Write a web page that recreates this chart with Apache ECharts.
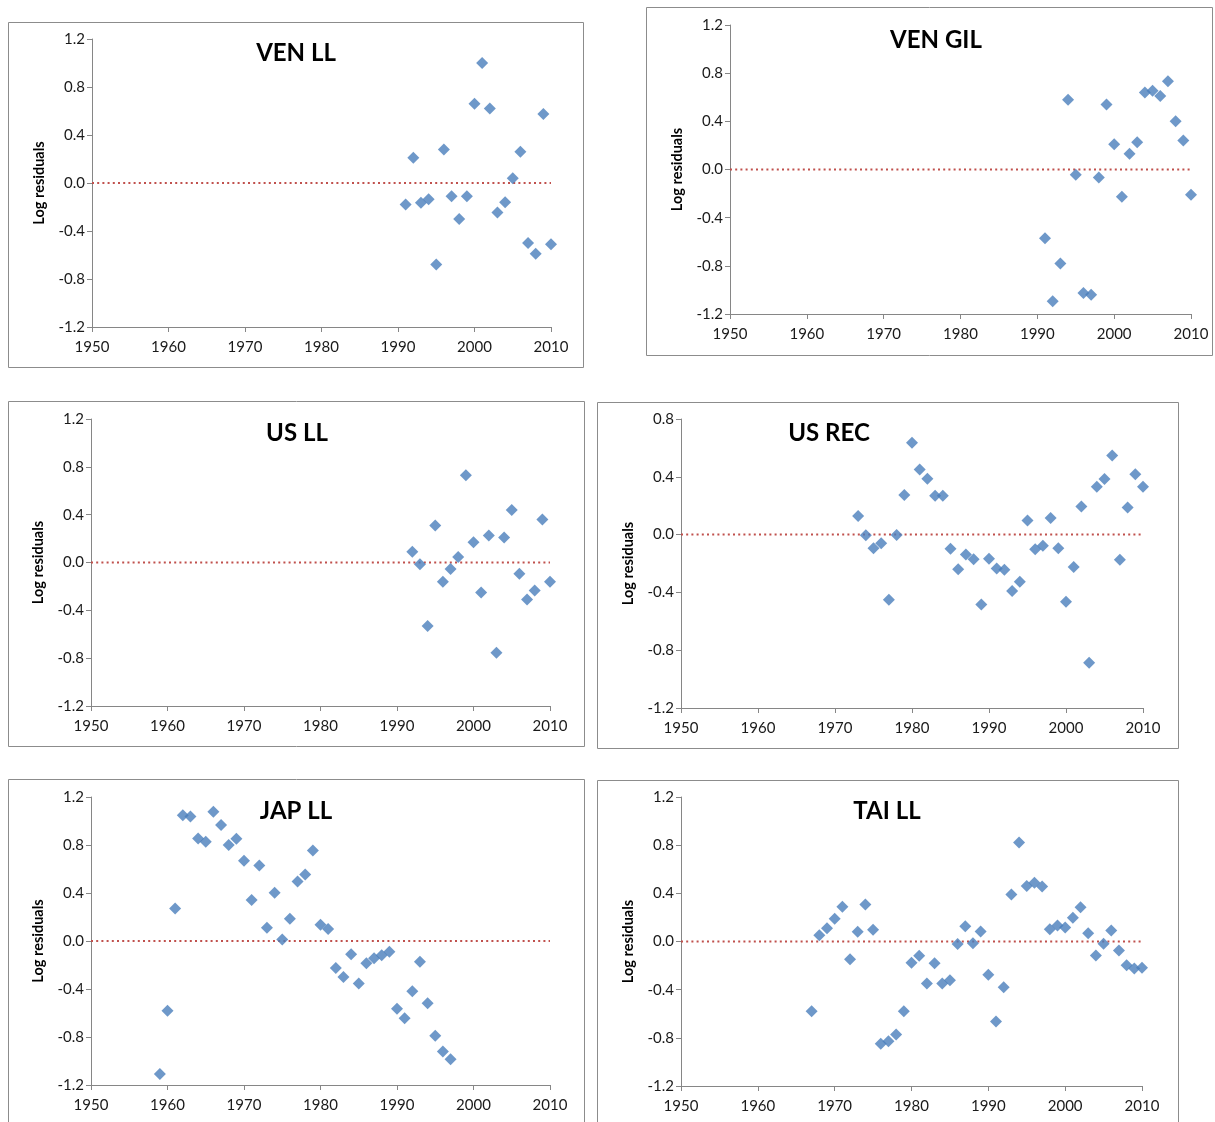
<!DOCTYPE html>
<html><head><meta charset="utf-8">
<script src="https://cdn.jsdelivr.net/npm/echarts@6/dist/echarts.min.js"></script>
<style>html,body{margin:0;padding:0;background:#fff}#c{width:1215px;height:1122px}</style>
</head><body><div id="c"></div>
<script>
// ---------------- data ----------------
const xTickLabels = [1950, 1960, 1970, 1980, 1990, 2000, 2010];
const yTicksA = [-1.2, -0.8, -0.4, 0.0, 0.4, 0.8, 1.2];
const yTicksB = [-1.2, -0.8, -0.4, 0.0, 0.4, 0.8];

const venLLYears = [1991,1992,1993,1994,1995,1996,1997,1998,1999,2000,2001,2002,2003,2004,2005,2006,2007,2008,2009,2010];
const venLL = [-0.18, 0.21, -0.165, -0.135, -0.68, 0.28, -0.11, -0.30, -0.11, 0.66, 1.00, 0.62, -0.245, -0.16, 0.04, 0.26, -0.50, -0.59, 0.575, -0.51];

const venGILYears = [1991,1992,1993,1994,1995,1996,1997,1998,1999,2000,2001,2002,2003,2004,2005,2006,2007,2008,2009,2010];
const venGIL = [-0.57, -1.095, -0.78, 0.58, -0.044, -1.025, -1.04, -0.066, 0.54, 0.21, -0.226, 0.13, 0.227, 0.64, 0.655, 0.61, 0.733, 0.40, 0.24, -0.21];

const usLLYears = [1992,1993,1994,1995,1996,1997,1998,1999,2000,2001,2002,2003,2004,2005,2006,2007,2008,2009,2010];
const usLL = [0.09, -0.015, -0.53, 0.31, -0.16, -0.055, 0.046, 0.73, 0.17, -0.25, 0.225, -0.755, 0.21, 0.44, -0.094, -0.31, -0.235, 0.36, -0.16];

const usRECYears = [1973,1974,1975,1976,1977,1978,1979,1980,1981,1982,1983,1984,1985,1986,1987,1988,1989,1990,1991,1992,1993,1994,1995,1996,1997,1998,1999,2000,2001,2002,2003,2004,2005,2006,2007,2008,2009,2010];
const usREC = [0.129, -0.005, -0.095, -0.06, -0.45, -0.003, 0.274, 0.636, 0.451, 0.387, 0.269, 0.269, -0.098, -0.24, -0.137, -0.17, -0.483, -0.167, -0.234, -0.243, -0.39, -0.326, 0.098, -0.102, -0.077, 0.115, -0.095, -0.464, -0.224, 0.195, -0.887, 0.331, 0.385, 0.548, -0.174, 0.188, 0.417, 0.331];

const japLLYears = [1959,1960,1961,1962,1963,1964,1965,1966,1967,1968,1969,1970,1971,1972,1973,1974,1975,1976,1977,1978,1979,1980,1981,1982,1983,1984,1985,1986,1987,1988,1989,1990,1991,1992,1993,1994,1995,1996,1997];
const japLL = [-1.108, -0.582, 0.271, 1.047, 1.038, 0.855, 0.827, 1.077, 0.966, 0.80, 0.852, 0.669, 0.341, 0.63, 0.11, 0.402, 0.0125, 0.185, 0.496, 0.555, 0.755, 0.135, 0.10, -0.224, -0.30, -0.11, -0.354, -0.185, -0.143, -0.118, -0.09, -0.565, -0.643, -0.418, -0.173, -0.518, -0.79, -0.92, -0.985];

const taiLLYears = [1967,1968,1969,1970,1971,1972,1973,1974,1975,1976,1977,1978,1979,1980,1981,1982,1983,1984,1985,1986,1987,1988,1989,1990,1991,1992,1993,1994,1995,1996,1997,1998,1999,2000,2001,2002,2003,2004,2005,2006,2007,2008,2009,2010];
const taiLL = [-0.58, 0.052, 0.11, 0.188, 0.288, -0.147, 0.08, 0.307, 0.097, -0.85, -0.828, -0.772, -0.58, -0.177, -0.119, -0.349, -0.18, -0.349, -0.321, -0.02, 0.127, -0.014, 0.083, -0.277, -0.664, -0.38, 0.39, 0.822, 0.46, 0.487, 0.457, 0.102, 0.133, 0.116, 0.197, 0.285, 0.069, -0.116, -0.019, 0.091, -0.075, -0.197, -0.224, -0.218];

const zeroLineY = [0, 0];
const panelTitles = ['VEN LL', 'VEN GIL', 'US LL', 'US REC', 'JAP LL', 'TAI LL'];
const yAxisName = 'Log residuals';

// ---------------- layout ----------------
const panels = [
  { title: panelTitles[0], years: venLLYears, vals: venLL, yt: yTicksA,
    grid: {left: 92, top: 39, width: 459, height: 288}, box: [8, 22, 575, 345], tc: [296, 53] },
  { title: panelTitles[1], years: venGILYears, vals: venGIL, yt: yTicksA,
    grid: {left: 730, top: 25, width: 461, height: 289}, box: [646, 7, 566, 348], tc: [936, 40] },
  { title: panelTitles[2], years: usLLYears, vals: usLL, yt: yTicksA,
    grid: {left: 91, top: 419, width: 459, height: 287}, box: [8, 401, 576, 345], tc: [297, 433] },
  { title: panelTitles[3], years: usRECYears, vals: usREC, yt: yTicksB,
    grid: {left: 681, top: 419, width: 462, height: 289}, box: [597, 402, 581, 346], tc: [829, 433] },
  { title: panelTitles[4], years: japLLYears, vals: japLL, yt: yTicksA,
    grid: {left: 91, top: 797, width: 459, height: 288}, box: [8, 779, 576, 360], tc: [296, 811] },
  { title: panelTitles[5], years: taiLLYears, vals: taiLL, yt: yTicksA,
    grid: {left: 681, top: 797, width: 461, height: 289}, box: [597, 780, 581, 360], tc: [887, 811] }
];

const FONT = 'Lato, "Open Sans", sans-serif';
const AXIS_COLOR = '#868686';
const MARKER = '#4A7EBB';
const ZERO = '#C0504D';

const option = {
  animation: false,
  backgroundColor: '#ffffff',
  textStyle: { fontFamily: FONT },
  title: [], grid: [], xAxis: [], yAxis: [], series: [], graphic: []
};

panels.forEach((p, i) => {
  option.graphic.push({
    type: 'rect', silent: true, z: -10,
    shape: { x: p.box[0] + 0.5, y: p.box[1] + 0.5, width: p.box[2], height: p.box[3] },
    style: { fill: '#fff', stroke: '#8c8c8c', lineWidth: 1 }
  });
  option.title.push({
    text: p.title, left: p.tc[0], top: p.tc[1], textAlign: 'center', textVerticalAlign: 'middle', padding: 0,
    textStyle: { fontFamily: FONT, fontWeight: 'bold', fontSize: 24, color: '#000' }
  });
  option.grid.push(Object.assign({ containLabel: false }, p.grid));
  const xMin = xTickLabels[0], xMax = xTickLabels[xTickLabels.length - 1];
  option.xAxis.push({
    type: 'value', gridIndex: i, min: xMin, max: xMax, interval: 10,
    axisLine: { show: true, onZero: false, lineStyle: { color: AXIS_COLOR, width: 1 } },
    axisTick: { show: true, length: 5, lineStyle: { color: AXIS_COLOR } },
    splitLine: { show: false },
    axisLabel: { color: '#1a1a1a', fontSize: 15, fontFamily: FONT, margin: 13, formatter: v => String(v) }
  });
  const yMin = p.yt[0], yMax = p.yt[p.yt.length - 1];
  option.yAxis.push({
    type: 'value', gridIndex: i, min: yMin, max: yMax, interval: 0.4,
    name: yAxisName, nameLocation: 'middle', nameGap: 45,
    nameTextStyle: { fontFamily: FONT, fontWeight: 'bold', fontSize: 14.5, color: '#000' },
    axisLine: { show: true, onZero: false, lineStyle: { color: AXIS_COLOR, width: 1 } },
    axisTick: { show: true, length: 5, lineStyle: { color: AXIS_COLOR } },
    splitLine: { show: false },
    axisLabel: { color: '#1a1a1a', fontSize: 15, fontFamily: FONT, margin: 7,
      formatter: v => (Math.abs(v) < 1e-9 ? 0 : v).toFixed(1) }
  });
  option.series.push({
    type: 'line', xAxisIndex: i, yAxisIndex: i, silent: true, z: 1,
    symbol: 'none',
    data: [[xMin, zeroLineY[0]], [xMax, zeroLineY[1]]],
    lineStyle: { color: ZERO, width: 2, type: [2, 3.2] }
  });
  option.series.push({
    type: 'scatter', xAxisIndex: i, yAxisIndex: i, z: 2,
    symbol: 'diamond', symbolSize: 12,
    itemStyle: { color: MARKER },
    data: p.years.map((y, k) => [y, p.vals[k]])
  });
});

const chart = echarts.init(document.getElementById('c'), null, { renderer: 'canvas' });
chart.setOption(option);
</script>
</body></html>
